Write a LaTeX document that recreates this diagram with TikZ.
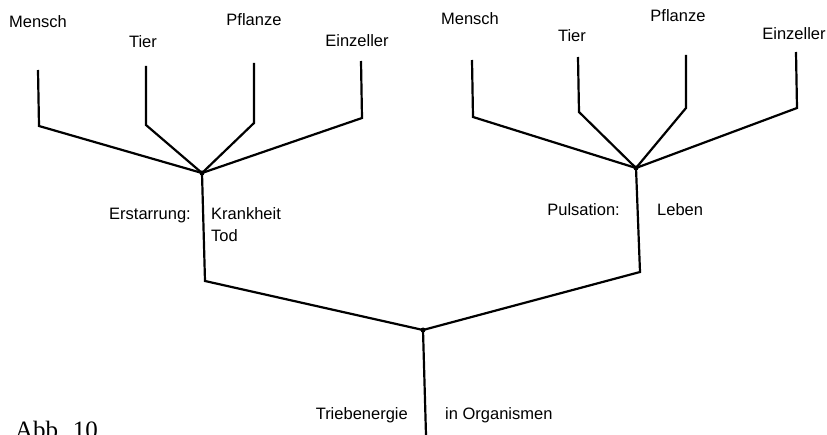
\documentclass[tikz,border=0pt]{standalone}
\usepackage{fontspec}
\setmainfont{Liberation Sans}
\newfontfamily\serifabb{Liberation Serif}
\begin{document}
\begin{tikzpicture}[x=1pt,y=-1pt,
  lbl/.style={font=\fontsize{16.5}{18}\selectfont, inner sep=0pt, anchor=base},
  lblr/.style={lbl, anchor=base east},
  lbll/.style={lbl, anchor=base west},
  branch/.style={line width=2.2pt, line join=miter, line cap=butt},
  knot/.style={circle, fill=black, inner sep=0pt, minimum size=5pt}]
\useasboundingbox (0,0) rectangle (827,435);
% left tree
\coordinate (lmt) at (38,70);  \coordinate (lmb) at (39,126);
\coordinate (ltt) at (146,66); \coordinate (ltb) at (146,125);
\coordinate (lpt) at (254,63); \coordinate (lpb) at (254,123);
\coordinate (let) at (361,61); \coordinate (leb) at (362,118);
\node[knot] (j1) at (202,173) {};
\coordinate (l1) at (205,281);
% right tree
\coordinate (rmt) at (472,60); \coordinate (rmb) at (473,117);
\coordinate (rtt) at (578,57); \coordinate (rtb) at (579,112);
\coordinate (rpt) at (686,55); \coordinate (rpb) at (686,108);
\coordinate (ret) at (796,52); \coordinate (reb) at (797,108);
\node[knot] (j2) at (636,168) {};
\coordinate (r1) at (640,272);
% root
\node[knot] (j0) at (423,330) {};
\coordinate (root) at (426,435);

\draw[branch] (lmt) -- (lmb) -- (j1.center);
\draw[branch] (ltt) -- (ltb) -- (j1.center);
\draw[branch] (lpt) -- (lpb) -- (j1.center);
\draw[branch] (let) -- (leb) -- (j1.center);
\draw[branch] (j1.center) -- (l1) -- (j0.center);
\draw[branch] (rmt) -- (rmb) -- (j2.center);
\draw[branch] (rtt) -- (rtb) -- (j2.center);
\draw[branch] (rpt) -- (rpb) -- (j2.center);
\draw[branch] (ret) -- (reb) -- (j2.center);
\draw[branch] (j2.center) -- (r1) -- (j0.center);
\draw[branch] (j0.center) -- (root);

% labels
\node[lbl] (tlm) at (38,28) {Mensch};
\node[lbl] (tlt) at (143,48) {Tier};
\node[lbl] (tlp) at (254,26) {Pflanze};
\node[lbl] (tle) at (357,47) {Einzeller};
\node[lbl] (trm) at (470,25) {Mensch};
\node[lbl] (trt) at (572,42) {Tier};
\node[lbl] (trp) at (678,22) {Pflanze};
\node[lbl] (tre) at (794,40) {Einzeller};
\node[lblr] (erst) at (191,220) {Erstarrung:};
\node[lbll] (krank) at (211,220) {Krankheit};
\node[lbll] (tod) at (211,242) {Tod};
\node[lblr] (puls) at (620,216) {Pulsation:};
\node[lbll] (leben) at (657,216) {Leben};
\node[lblr] (trieb) at (408,419) {Triebenergie};
\node[lbll] (organ) at (445,419) {in Organismen};
\node[anchor=base west, inner sep=0pt, font=\serifabb\fontsize{25}{28}\selectfont] (abb) at (15,438) {Abb. 10};
\end{tikzpicture}
\end{document}
